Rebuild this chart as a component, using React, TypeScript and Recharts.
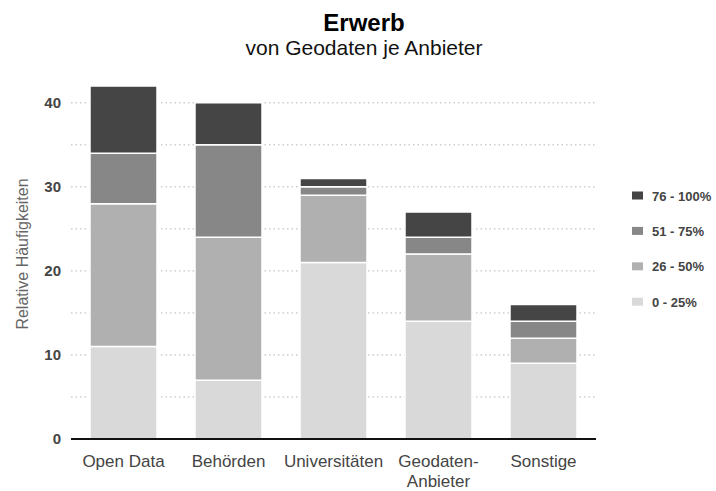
import React from 'react';
import { BarChart, Bar, XAxis, YAxis, CartesianGrid } from 'recharts';

const categories = ['Open Data', 'Behörden', 'Universitäten', 'Geodaten-\nAnbieter', 'Sonstige'];
const q0_25 = [11, 7, 21, 14, 9];
const q26_50 = [17, 17, 8, 8, 3];
const q51_75 = [6, 11, 1, 2, 2];
const q76_100 = [8, 5, 1, 3, 2];
const seriesKeys = ['q0', 'q26', 'q51', 'q76'];
const seriesNames = ['0 - 25%', '26 - 50%', '51 - 75%', '76 - 100%'];
const seriesColors = ['#d9d9d9', '#b0b0b0', '#878787', '#454545'];
const yTicks = [0, 10, 20, 30, 40];
const gridValues = [5, 10, 15, 20, 25, 30, 35, 40];
const title = 'Erwerb';
const subtitle = 'von Geodaten je Anbieter';
const yLabel = 'Relative Häufigkeiten';

const data = categories.map((c, i) => ({
  name: c,
  q0: q0_25[i],
  q26: q26_50[i],
  q51: q51_75[i],
  q76: q76_100[i],
}));

const FONT = '"Liberation Sans", Arial, sans-serif';

const XTick = (props: any) => {
  const { x, y, payload } = props;
  const lines = String(payload.value).split('\n');
  return (
    <g transform={`translate(${x},${y})`}>
      {lines.map((l: string, i: number) => (
        <text key={i} x={0} y={0} dy={20 + i * 20} textAnchor="middle" fill="#444" fontSize={17} fontFamily={FONT}>
          {l}
        </text>
      ))}
    </g>
  );
};

export default function App() {
  const legendOrder = [3, 2, 1, 0];
  return (
    <div style={{ position: 'absolute', left: 0, top: 0, width: 716, height: 491, background: '#fff', fontFamily: FONT }}>
      <BarChart width={716} height={491} data={data} margin={{ top: 86, right: 120, bottom: 22, left: 0 }}>
        <CartesianGrid
          vertical={false}
          horizontalValues={gridValues}
          stroke="#b5b5b5"
          strokeDasharray="1.5 3"
        />
        <XAxis
          dataKey="name"
          height={30}
          interval={0}
          tickLine={false}
          axisLine={{ stroke: '#111', strokeWidth: 2 }}
          tick={<XTick />}
        />
        <YAxis
          width={71}
          domain={[0, 42]}
          ticks={yTicks}
          interval={0}
          axisLine={false}
          tickLine={false}
          tickMargin={4}
          tick={{ fill: '#444', fontSize: 15, fontWeight: 'bold', fontFamily: FONT }}
        />
        {seriesKeys.map((k, i) => (
          <Bar
            key={k}
            dataKey={k}
            name={seriesNames[i]}
            stackId="a"
            fill={seriesColors[i]}
            stroke="#ffffff"
            strokeWidth={1.5}
            barSize={67}
            isAnimationActive={false}
          />
        ))}
      </BarChart>
      <svg width={716} height={491} style={{ position: 'absolute', left: 0, top: 0, pointerEvents: 'none' }}>
        <text x={364} y={31} textAnchor="middle" fontSize={24} fontWeight="bold" fill="#000" fontFamily={FONT}>
          {title}
        </text>
        <text x={364} y={55} textAnchor="middle" fontSize={21} fill="#111" fontFamily={FONT}>
          {subtitle}
        </text>
        <text
          transform="translate(28,254) rotate(-90)"
          x={0}
          y={0}
          textAnchor="middle"
          fontSize={16}
          fill="#666"
          fontFamily={FONT}
        >
          {yLabel}
        </text>
        {legendOrder.map((si, idx) => {
          const cy = 195.5 + idx * 35.4;
          return (
            <g key={si}>
              <rect x={632} y={cy - 4} width={11} height={8} fill={seriesColors[si]} />
              <text x={652} y={cy + 5} fontSize={13} fontWeight="bold" fill="#444" fontFamily={FONT}>
                {seriesNames[si]}
              </text>
            </g>
          );
        })}
      </svg>
    </div>
  );
}
